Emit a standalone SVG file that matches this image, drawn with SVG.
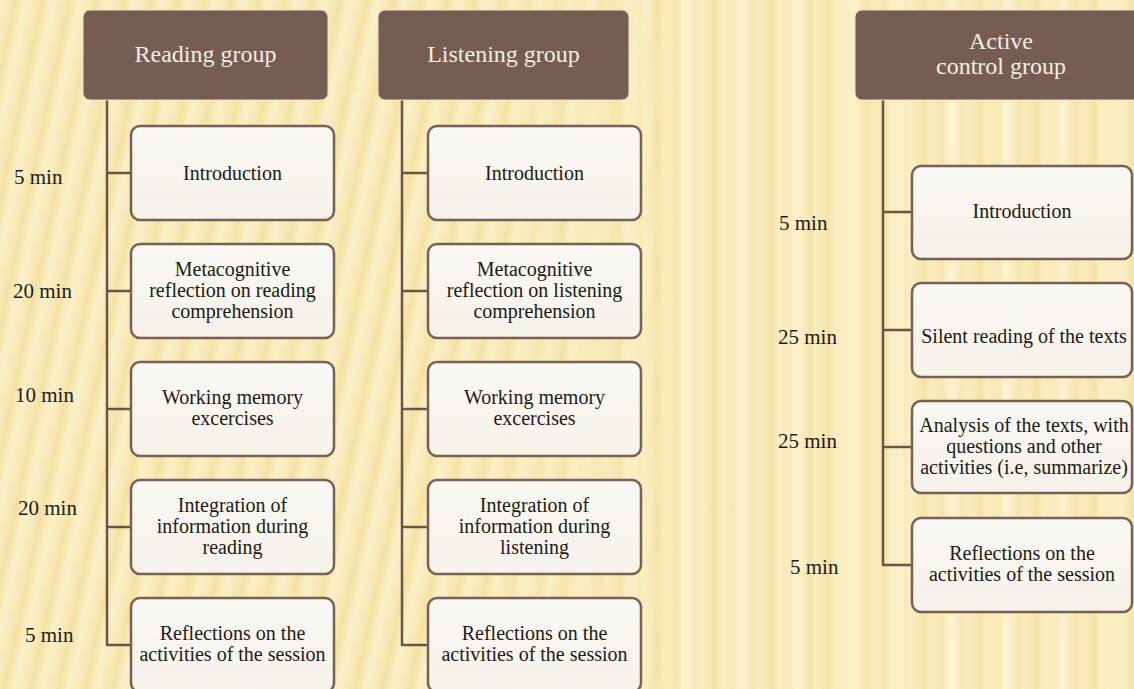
<svg xmlns="http://www.w3.org/2000/svg" width="1134" height="689" viewBox="0 0 1134 689">
  <defs>
    <style>
      .hdr { fill: #765c52; stroke: #efe0c4; stroke-width: 1; }
      .hdr-t { font-family: "Liberation Serif", "Times New Roman", serif; font-size: 24px; fill: #f4ede4; text-anchor: middle; }
      .box { fill: url(#boxFill); stroke: #7a5f54; stroke-width: 2.5; }
      .box-t { font-family: "Liberation Serif", "Times New Roman", serif; font-size: 20px; fill: #1c1a18; text-anchor: middle; }
      .dur { font-family: "Liberation Serif", "Times New Roman", serif; font-size: 21px; fill: #1c1a18; }
      .conn { fill: none; stroke: #6e5348; stroke-width: 2.5; }
    </style>
    <linearGradient id="boxFill" x1="0" y1="0" x2="0" y2="1">
      <stop offset="0" stop-color="#faf8f3"/>
      <stop offset="1" stop-color="#f5f2ea"/>
    </linearGradient>
    <!-- straight vertical stripes of the backdrop -->
    <linearGradient id="stripesV" gradientUnits="userSpaceOnUse" x1="0" y1="0" x2="19" y2="0" spreadMethod="repeat">
      <stop offset="0" stop-color="#fbf0c9"/>
      <stop offset="0.4" stop-color="#f9e9b6"/>
      <stop offset="0.6" stop-color="#f6e3a8"/>
      <stop offset="0.85" stop-color="#faedc0"/>
      <stop offset="1" stop-color="#fbf0c9"/>
    </linearGradient>
    <linearGradient id="stripesV2" gradientUnits="userSpaceOnUse" x1="0" y1="0" x2="53" y2="0" spreadMethod="repeat">
      <stop offset="0" stop-color="#fff8de" stop-opacity="0.45"/>
      <stop offset="0.5" stop-color="#f0d88f" stop-opacity="0.18"/>
      <stop offset="1" stop-color="#fff8de" stop-opacity="0.45"/>
    </linearGradient>
    <!-- slanted stripes on the left side -->
    <linearGradient id="stripesD" gradientUnits="userSpaceOnUse" x1="0" y1="0" x2="27" y2="0" spreadMethod="repeat" gradientTransform="skewX(-12)">
      <stop offset="0" stop-color="#fbf0c9"/>
      <stop offset="0.4" stop-color="#f8e7b2"/>
      <stop offset="0.6" stop-color="#f5e1a4"/>
      <stop offset="0.85" stop-color="#faecbd"/>
      <stop offset="1" stop-color="#fbf0c9"/>
    </linearGradient>
    <linearGradient id="fadeL" x1="0" y1="0" x2="1" y2="0">
      <stop offset="0" stop-color="#fff"/>
      <stop offset="0.42" stop-color="#fff"/>
      <stop offset="0.6" stop-color="#000"/>
      <stop offset="1" stop-color="#000"/>
    </linearGradient>
    <mask id="leftMask">
      <rect width="1134" height="689" fill="url(#fadeL)"/>
    </mask>
  </defs>

  <!-- backdrop -->
  <rect width="1134" height="689" fill="#f9ecbc"/>
  <rect width="1134" height="689" fill="url(#stripesV)"/>
  <rect width="1134" height="689" fill="url(#stripesV2)"/>
  <rect width="1134" height="689" fill="url(#stripesD)" mask="url(#leftMask)"/>

  <!-- connectors -->
  <g id="connectors">
    <path class="conn" d="M107 100 V645 H131 M107 173 H131 M107 291 H131 M107 409 H131 M107 527 H131"/>
    <path class="conn" d="M402 100 V645 H428 M402 173 H428 M402 291 H428 M402 409 H428 M402 527 H428"/>
    <path class="conn" d="M883 100 V565 H912 M883 212 H912 M883 330 H912 M883 447 H912"/>
  </g>

  <!-- durations -->
  <g id="durations-reading">
    <text class="dur" x="14" y="184">5 min</text>
    <text class="dur" x="13" y="298">20 min</text>
    <text class="dur" x="15" y="402">10 min</text>
    <text class="dur" x="18" y="515">20 min</text>
    <text class="dur" x="25" y="642">5 min</text>
  </g>
  <g id="durations-control">
    <text class="dur" x="779" y="230">5 min</text>
    <text class="dur" x="778" y="344">25 min</text>
    <text class="dur" x="778" y="448">25 min</text>
    <text class="dur" x="790" y="574">5 min</text>
  </g>

  <!-- Reading group -->
  <g id="reading-header">
    <rect class="hdr" x="83" y="10" width="245" height="90" rx="7"/>
    <text class="hdr-t" x="205.5" y="62">Reading group</text>
  </g>
  <g id="reading-intro">
    <rect class="box" x="131" y="126" width="203" height="94" rx="9"/>
    <text class="box-t" x="232.5" y="180">Introduction</text>
  </g>
  <g id="reading-meta">
    <rect class="box" x="131" y="244" width="203" height="94" rx="9"/>
    <text class="box-t" x="232.5" y="276">Metacognitive</text>
    <text class="box-t" x="232.5" y="297">reflection on reading</text>
    <text class="box-t" x="232.5" y="318">comprehension</text>
  </g>
  <g id="reading-memory">
    <rect class="box" x="131" y="362" width="203" height="94" rx="9"/>
    <text class="box-t" x="232.5" y="404">Working memory</text>
    <text class="box-t" x="232.5" y="425">excercises</text>
  </g>
  <g id="reading-integration">
    <rect class="box" x="131" y="480" width="203" height="94" rx="9"/>
    <text class="box-t" x="232.5" y="512">Integration of</text>
    <text class="box-t" x="232.5" y="533">information during</text>
    <text class="box-t" x="232.5" y="554">reading</text>
  </g>
  <g id="reading-reflections">
    <rect class="box" x="131" y="598" width="203" height="94" rx="9"/>
    <text class="box-t" x="232.5" y="640">Reflections on the</text>
    <text class="box-t" x="232.5" y="661">activities of the session</text>
  </g>

  <!-- Listening group -->
  <g id="listening-header">
    <rect class="hdr" x="378" y="10" width="251" height="90" rx="7"/>
    <text class="hdr-t" x="503.5" y="62">Listening group</text>
  </g>
  <g id="listening-intro">
    <rect class="box" x="428" y="126" width="213" height="94" rx="9"/>
    <text class="box-t" x="534.5" y="180">Introduction</text>
  </g>
  <g id="listening-meta">
    <rect class="box" x="428" y="244" width="213" height="94" rx="9"/>
    <text class="box-t" x="534.5" y="276">Metacognitive</text>
    <text class="box-t" x="534.5" y="297">reflection on listening</text>
    <text class="box-t" x="534.5" y="318">comprehension</text>
  </g>
  <g id="listening-memory">
    <rect class="box" x="428" y="362" width="213" height="94" rx="9"/>
    <text class="box-t" x="534.5" y="404">Working memory</text>
    <text class="box-t" x="534.5" y="425">excercises</text>
  </g>
  <g id="listening-integration">
    <rect class="box" x="428" y="480" width="213" height="94" rx="9"/>
    <text class="box-t" x="534.5" y="512">Integration of</text>
    <text class="box-t" x="534.5" y="533">information during</text>
    <text class="box-t" x="534.5" y="554">listening</text>
  </g>
  <g id="listening-reflections">
    <rect class="box" x="428" y="598" width="213" height="94" rx="9"/>
    <text class="box-t" x="534.5" y="640">Reflections on the</text>
    <text class="box-t" x="534.5" y="661">activities of the session</text>
  </g>

  <!-- Active control group -->
  <g id="control-header">
    <rect class="hdr" x="855" y="10" width="292" height="90" rx="7"/>
    <text class="hdr-t" x="1001" y="49">Active</text>
    <text class="hdr-t" x="1001" y="74">control group</text>
  </g>
  <g id="control-intro">
    <rect class="box" x="912" y="166" width="220" height="93" rx="9"/>
    <text class="box-t" x="1022" y="218">Introduction</text>
  </g>
  <g id="control-silent">
    <rect class="box" x="912" y="283" width="220" height="94" rx="9"/>
    <text class="box-t" x="1024" y="343">Silent reading of the texts</text>
  </g>
  <g id="control-analysis">
    <rect class="box" x="912" y="401" width="220" height="92" rx="9"/>
    <text class="box-t" x="1024" y="432">Analysis of the texts, with</text>
    <text class="box-t" x="1024" y="453">questions and other</text>
    <text class="box-t" x="1024" y="474">activities (i.e, summarize)</text>
  </g>
  <g id="control-reflections">
    <rect class="box" x="912" y="518" width="220" height="94" rx="9"/>
    <text class="box-t" x="1022" y="560">Reflections on the</text>
    <text class="box-t" x="1022" y="581">activities of the session</text>
  </g>
</svg>
